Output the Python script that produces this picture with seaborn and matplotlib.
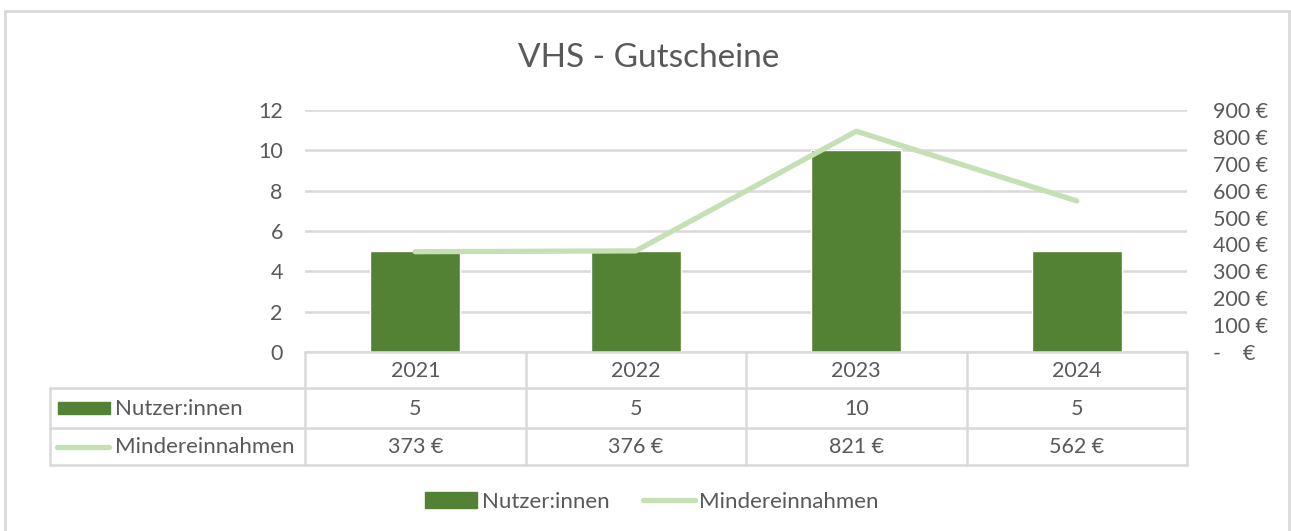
import matplotlib
matplotlib.use("Agg")
import matplotlib.pyplot as plt
import matplotlib.transforms as mtrans
from matplotlib.patches import Rectangle
from matplotlib.lines import Line2D
from matplotlib.ticker import FuncFormatter, MultipleLocator
import seaborn as sns
import numpy as np
import pandas as pd

# ---- data ----
years = ["2021", "2022", "2023", "2024"]
nutzer = [5, 5, 10, 5]
minder = [373, 376, 821, 562]
title = "VHS - Gutscheine"
series_names = ["Nutzer:innen", "Mindereinnahmen"]

BAR = "#548235"
LINE = "#C5E0B4"
TXT = "#595959"
GRID = "#D9D9D9"
FS = 15.5
FSL = 16

sns.set_theme(style="white")
plt.rcParams["font.family"] = ["Lato", "DejaVu Sans"]

W, H = 1291, 531
fig = plt.figure(figsize=(W / 100, H / 100), dpi=100)

def fx(px):
    return px / W

def fy(py):
    return 1 - py / H

# plot area
L, R, T, B = 305, 1187, 110, 352
ax = fig.add_axes([fx(L), fy(B), fx(R - L), (B - T) / H])
df = pd.DataFrame({"Jahr": years, "Nutzer": nutzer, "Minder": minder})
sns.barplot(data=df, x="Jahr", y="Nutzer", color=BAR, width=0.41, saturation=1, ax=ax)
ax.set_ylim(0, 12)
ax.set_xlim(-0.5, len(years) - 0.5)
ax.yaxis.set_major_locator(MultipleLocator(2))
ax.grid(axis="y", color=GRID, linewidth=1.8)
ax.set_axisbelow(True)
ax.set_xlabel("")
ax.set_ylabel("")
ax.set_xticks([])
for s in ax.spines.values():
    s.set_visible(False)
ax.tick_params(axis="y", length=0, pad=16, labelsize=FS, labelcolor=TXT)

ax2 = ax.twinx()
sns.lineplot(x=np.arange(len(years)), y=minder, ax=ax2, color=LINE, linewidth=3.8,
             solid_capstyle="round", solid_joinstyle="round")
ax2.set_ylim(0, 900)
ax2.yaxis.set_major_locator(MultipleLocator(100))
ax2.yaxis.set_major_formatter(FuncFormatter(lambda v, p: "-    €" if v == 0 else f"{v:.0f} €"))
ax2.tick_params(axis="y", length=0, pad=19, labelsize=FS, labelcolor=TXT)
for s in ax2.spines.values():
    s.set_visible(False)
ax2.set_ylabel("")
ax2.set_xlim(-0.5, len(years) - 0.5)

# title
fig.text(fx(649), fy(58), title, ha="center", va="center", fontsize=24, color=TXT)

# outer border
fig.add_artist(Line2D([fx(5), fx(1289)], [fy(11), fy(11)], color=GRID, lw=2, transform=fig.transFigure))
fig.add_artist(Line2D([fx(5), fx(5)], [fy(11), 0], color=GRID, lw=2, transform=fig.transFigure))
fig.add_artist(Line2D([fx(1289), fx(1289)], [fy(11), 0], color=GRID, lw=2, transform=fig.transFigure))

# data table
tr = mtrans.blended_transform_factory(ax.transData, fig.transFigure)
def hline(x0px, y):
    fig.add_artist(Line2D([fx(x0px), fx(R)], [fy(y), fy(y)], color=GRID, lw=1.8, transform=fig.transFigure))
def vline(xpx, y0, y1):
    fig.add_artist(Line2D([fx(xpx), fx(xpx)], [fy(y0), fy(y1)], color=GRID, lw=1.8, transform=fig.transFigure))

hline(L, 352)
for y in (388, 428, 465):
    hline(50, y)
vline(50, 388, 465)
n = len(years)
for i in range(n + 1):
    vline(L + (R - L) * i / n, 352, 465)

rows_y = [371, 409, 447]
for i, yr in enumerate(years):
    ax.text(i, fy(rows_y[0]), yr, transform=tr, fontsize=FS, color=TXT, ha="center", va="center", clip_on=False)
    ax.text(i, fy(rows_y[1]), f"{nutzer[i]}", transform=tr, fontsize=FS, color=TXT, ha="center", va="center", clip_on=False)
    ax.text(i, fy(rows_y[2]), f"{minder[i]} €", transform=tr, fontsize=FS, color=TXT, ha="center", va="center", clip_on=False)

# table legend keys
fig.add_artist(Rectangle((fx(58), fy(414)), fx(52), 12 / H, color=BAR, transform=fig.transFigure))
fig.text(fx(115), fy(rows_y[1]), series_names[0], fontsize=FSL, color=TXT, ha="left", va="center")
fig.add_artist(Line2D([fx(57), fx(109)], [fy(447), fy(447)], color=LINE, lw=3.8,
                      solid_capstyle="round", transform=fig.transFigure))
fig.text(fx(115), fy(rows_y[2]), series_names[1], fontsize=FSL, color=TXT, ha="left", va="center")

# bottom legend
handles = [Rectangle((0, 0), 1, 1, color=BAR),
           Line2D([0], [0], color=LINE, lw=3.8, solid_capstyle="round")]
fig.legend(handles, series_names, loc="center", bbox_to_anchor=(fx(652), fy(502)),
           ncol=2, frameon=False, fontsize=FSL, labelcolor=TXT, handlelength=2.35,
           handleheight=0.72, handletextpad=0.2, columnspacing=1.5)

fig.savefig("out.png", dpi=100)
